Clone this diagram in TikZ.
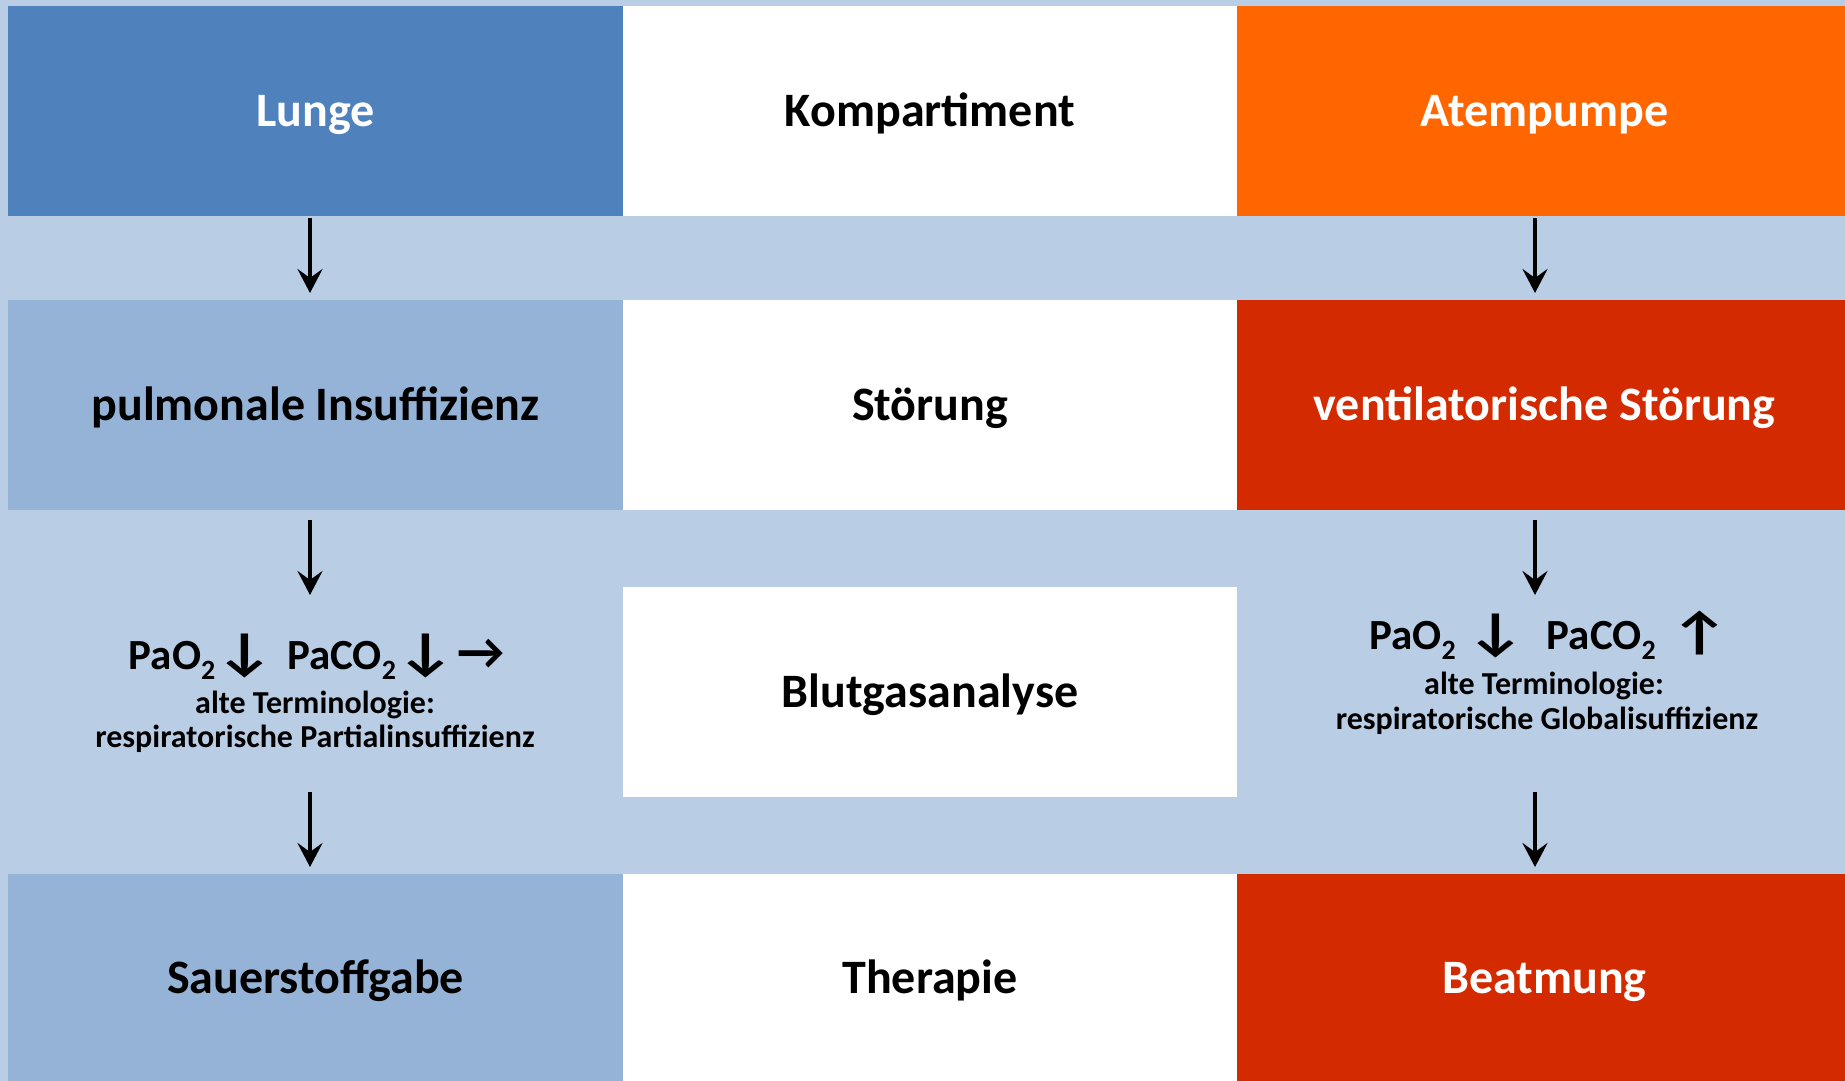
\documentclass[tikz,border=0pt]{standalone}
\usepackage{fontspec}
\setmainfont{Carlito}
\usetikzlibrary{arrows.meta}
\definecolor{bgblue}{HTML}{B9CDE5}
\definecolor{darkblue}{HTML}{4F81BD}
\definecolor{midblue}{HTML}{95B3D7}
\definecolor{orangebox}{HTML}{FF6600}
\definecolor{redbox}{HTML}{D42A00}
\newcommand\lowsub[1]{\raisebox{-0.25em}{\scalebox{0.65}{#1}}}
\newcommand\arrglyph[1]{{\fontsize{52}{52}\selectfont #1}}
\newcommand\vertglyph[1]{\scalebox{1.25}[1]{\fontsize{52}{52}\selectfont #1}}
\tikzset{
  cellbox/.style={draw=none, inner sep=0pt, outer sep=0pt, text height=31pt, text depth=0pt,
    font=\bfseries\fontsize{48}{48}\selectfont, align=center},
  bgaline/.style={anchor=base, inner sep=0pt, font=\bfseries\fontsize{43}{43}\selectfont},
  bgasmall/.style={anchor=base, inner sep=0pt, font=\bfseries\fontsize{32}{32}\selectfont},
  flowarrow/.style={draw=black, line width=4.5pt, -{Stealth[length=24pt,width=25pt,inset=9pt]}}
}
\begin{document}
\begin{tikzpicture}[x=1pt,y=-1pt]
\useasboundingbox (0,0) rectangle (1845,1081);
\fill[bgblue] (0,0) rectangle (1845,1081);
% row 1
\node[cellbox, fill=darkblue, text=white, minimum width=615pt, minimum height=210pt] (lunge) at (315.5,111) {Lunge};
\node[cellbox, fill=white, minimum width=614pt, minimum height=210pt] (komp) at (930,111) {Kompartiment};
\node[cellbox, fill=orangebox, text=white, minimum width=615pt, minimum height=210pt] (atem) at (1544.5,111) {Atempumpe};
% row 2
\node[cellbox, fill=midblue, minimum width=615pt, minimum height=210pt] (pulm) at (315.5,405) {pulmonale Insuffizienz};
\node[cellbox, fill=white, minimum width=614pt, minimum height=210pt] (stoer) at (930,405) {Störung};
\node[cellbox, fill=redbox, text=white, minimum width=615pt, minimum height=210pt] (vent) at (1544.5,405) {ventilatorische Störung};
% row 3
\node[cellbox, fill=white, minimum width=614pt, minimum height=210pt] (bga) at (930,692) {Blutgasanalyse};
\node[bgaline] (lbga) at (316.5,669) {PaO\lowsub{2}\vertglyph{↓}\hspace{0.3em}PaCO\lowsub{2}\vertglyph{↓}\hspace{0.05em}\arrglyph{→}};
\node[bgasmall] (lterm) at (315,713) {alte Terminologie:};
\node[bgasmall] (lpart) at (315,747) {respiratorische Partialinsuffizienz};
\node[bgaline] (rbga) at (1549.5,649) {PaO\lowsub{2}\hspace{0.25em}\vertglyph{↓}\hspace{0.5em}PaCO\lowsub{2}\hspace{0.35em}\vertglyph{↑}};
\node[bgasmall] (rterm) at (1544,694) {alte Terminologie:};
\node[bgasmall] (rglob) at (1547,729) {respiratorische Globalisuffizienz};
% row 4
\node[cellbox, fill=midblue, minimum width=615pt, minimum height=207pt] (sauer) at (315.5,977.5) {Sauerstoffgabe};
\node[cellbox, fill=white, minimum width=614pt, minimum height=207pt] (thera) at (930,977.5) {Therapie};
\node[cellbox, fill=redbox, text=white, minimum width=615pt, minimum height=207pt] (beat) at (1544.5,977.5) {Beatmung};
% arrows left
\draw[flowarrow, shorten <=2pt, shorten >=7pt] ([xshift=-5.5pt]lunge.south) -- ([xshift=-5.5pt]pulm.north);
\draw[flowarrow] ([xshift=-5.5pt,yshift=-10pt]pulm.south) -- ([xshift=-5.5pt,yshift=-85pt]pulm.south);
\draw[flowarrow] ([xshift=-5.5pt,yshift=82pt]sauer.north) -- ([xshift=-5.5pt,yshift=7pt]sauer.north);
% arrows right
\draw[flowarrow, shorten <=2pt, shorten >=7pt] ([xshift=-9.5pt]atem.south) -- ([xshift=-9.5pt]vent.north);
\draw[flowarrow] ([xshift=-9.5pt,yshift=-10pt]vent.south) -- ([xshift=-9.5pt,yshift=-85pt]vent.south);
\draw[flowarrow] ([xshift=-9.5pt,yshift=82pt]beat.north) -- ([xshift=-9.5pt,yshift=7pt]beat.north);
\end{tikzpicture}
\end{document}
